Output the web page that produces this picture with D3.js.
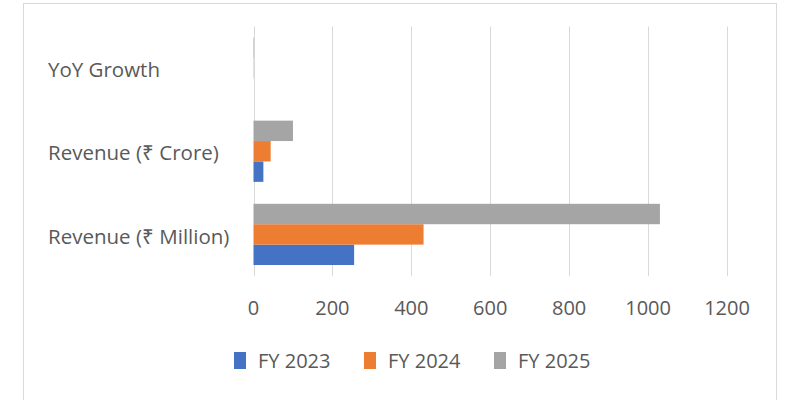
<!DOCTYPE html>
<html>
<head>
<meta charset="utf-8">
<script src="https://cdn.jsdelivr.net/npm/d3@7"></script>
<style>
  body { margin: 0; background: #fff; }
  svg { display: block; }
</style>
</head>
<body>
<div id="chart"></div>
<script>
// categories bottom-to-top as in the picture
const categories = ["Revenue (₹ Million)", "Revenue (₹ Crore)", "YoY Growth"];
const seriesNames = ["FY 2023", "FY 2024", "FY 2025"];
const fy2023 = [255, 25, null];
const fy2024 = [431, 43.5, 0.69];
const fy2025 = [1030, 100, 1.39];
const xTicks = [0, 200, 400, 600, 800, 1000, 1200];
const colors = ["#4472c4", "#ed7d31", "#a5a5a5"];

const width = 800, height = 400;
const seriesValues = [fy2023, fy2024, fy2025];

const svg = d3.select("#chart").append("svg")
    .attr("width", width)
    .attr("height", height);

// chart frame
svg.append("rect")
    .attr("x", 23.5)
    .attr("y", 3.5)
    .attr("width", 753)
    .attr("height", 430)
    .attr("fill", "#fff")
    .attr("stroke", "#d9d9d9");

const x = d3.scaleLinear()
    .domain([0, 1200])
    .range([253.5, 727]);

const y = d3.scaleBand()
    .domain(categories)
    .range([276, 26.5]);   // first category at the bottom

// bars inside each band, FY 2025 on top
const gap = y.bandwidth() * 0.132;
const inner = d3.scaleBand()
    .domain(seriesNames.slice().reverse())
    .range([gap, y.bandwidth() - gap]);

// gridlines
svg.append("g")
    .selectAll("line")
    .data(xTicks)
    .enter().append("line")
    .attr("x1", d => Math.round(x(d)) + 0.5)
    .attr("x2", d => Math.round(x(d)) + 0.5)
    .attr("y1", 26.5)
    .attr("y2", 276)
    .attr("stroke", "#d9d9d9")
    .attr("stroke-width", 1);

// bars
const rows = [];
seriesNames.forEach((s, i) => {
  categories.forEach((c, j) => {
    const v = seriesValues[i][j];
    if (v != null) rows.push({ series: s, cat: c, value: v, color: colors[i] });
  });
});

svg.append("g")
    .selectAll("rect")
    .data(rows)
    .enter().append("rect")
    .attr("x", x(0))
    .attr("y", d => y(d.cat) + inner(d.series))
    .attr("width", d => x(d.value) - x(0))
    .attr("height", inner.bandwidth())
    .attr("fill", d => d.color);

// x tick labels
svg.append("g")
    .selectAll("text")
    .data(xTicks)
    .enter().append("text")
    .attr("x", d => x(d))
    .attr("y", 315)
    .attr("text-anchor", "middle")
    .attr("font-family", "Open Sans")
    .attr("font-size", "20px")
    .attr("fill", "#595959")
    .text(d => d);

// category labels
svg.append("g")
    .selectAll("text")
    .data(categories)
    .enter().append("text")
    .attr("x", 48)
    .attr("y", d => y(d) + y.bandwidth() / 2 + 2)
    .attr("dy", "0.35em")
    .attr("font-family", "Open Sans")
    .attr("font-size", "20.5px")
    .attr("fill", "#595959")
    .text(d => d);

// legend
const legX = [234, 364, 494];
seriesNames.forEach((s, i) => {
  svg.append("rect")
      .attr("x", legX[i])
      .attr("y", 352)
      .attr("width", 12)
      .attr("height", 17)
      .attr("fill", colors[i]);

  svg.append("text")
      .attr("x", legX[i] + 24)
      .attr("y", 361)
      .attr("dy", "0.35em")
      .attr("font-family", "Open Sans")
      .attr("font-size", "20px")
      .attr("fill", "#595959")
      .text(s);
});
</script>
</body>
</html>
